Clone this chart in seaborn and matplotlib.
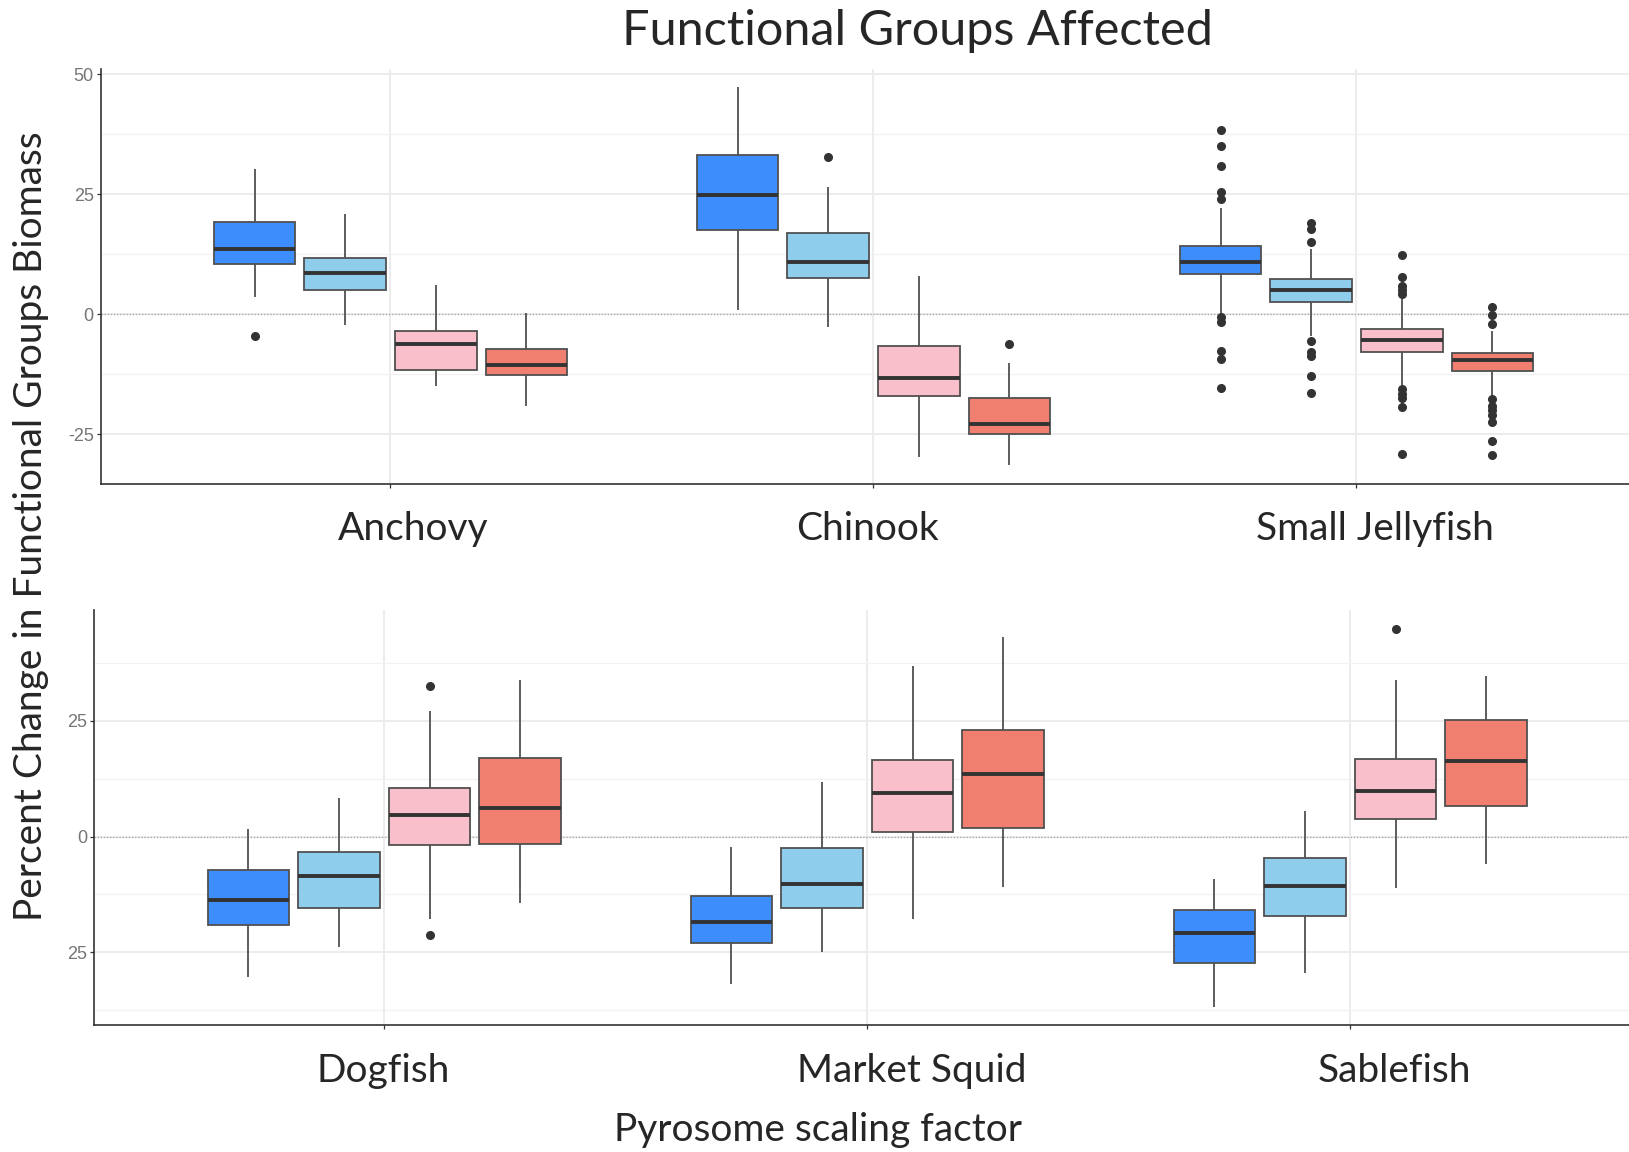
import numpy as np
import pandas as pd
import matplotlib
matplotlib.use("Agg")
import matplotlib.pyplot as plt
import seaborn as sns

# groups and scaling-factor levels (levels have no legend in the original)
top_groups = ["Anchovy", "Chinook", "Small Jellyfish"]
bottom_groups = ["Dogfish", "Market Squid", "Sablefish"]
levels = ["A", "B", "C", "D"]
level_colors = ["#3d8efc", "#8fcdec", "#f9c0cb", "#f17f6f"]

# box statistics: one row per group, one value per level
top_lo = [[3.6, -2.3, -14.9, -19.1], [0.9, -2.6, -29.8, -31.4], [0.2, -4.5, -14.7, -17.0]]
top_q1 = [[10.5, 5.0, -11.5, -12.6], [17.5, 7.5, -17.1, -24.9], [8.4, 2.5, -7.8, -11.7]]
top_med = [[13.6, 8.7, -6.1, -10.6], [24.9, 10.8, -13.3, -22.8], [11.0, 5.0, -5.4, -9.5]]
top_q3 = [[19.2, 11.7, -3.4, -7.3], [33.1, 16.9, -6.5, -17.5], [14.2, 7.3, -3.1, -8.1]]
top_hi = [[30.2, 20.9, 6.1, 0.2], [47.3, 26.6, 8.0, -10.2], [22.2, 13.6, 3.7, -3.4]]
top_out = [
    [[-4.5], [], [], []],
    [[], [32.8], [], [-6.1]],
    [[38.3, 35.1, 30.8, 25.5, 24.0, -0.5, -1.5, -7.6, -9.2, -15.4],
     [19.0, 17.7, 15.1, -5.5, -7.9, -8.6, -12.9, -16.4],
     [12.3, 7.7, 6.0, 5.1, 4.2, -15.5, -16.5, -17.4, -19.3, -29.0],
     [1.5, -0.2, -2.0, -17.7, -19.1, -19.9, -21.0, -22.4, -26.3, -29.2]],
]

bot_lo = [[-30.4, -23.8, -17.8, -14.3], [-31.9, -25.0, -17.8, -10.8], [-36.7, -29.4, -11.1, -6.0]]
bot_q1 = [[-19.2, -15.5, -1.9, -1.5], [-23.0, -15.5, 0.95, 1.9], [-27.3, -17.2, 3.9, 6.7]]
bot_med = [[-13.7, -8.6, 4.6, 6.1], [-18.4, -10.3, 9.5, 13.5], [-20.9, -10.6, 9.8, 16.3]]
bot_q3 = [[-7.3, -3.3, 10.4, 16.9], [-12.8, -2.5, 16.6, 23.0], [-15.8, -4.7, 16.7, 25.1]]
bot_hi = [[1.7, 8.4, 27.1, 33.9], [-2.2, 11.7, 36.9, 43.1], [-9.2, 5.6, 33.9, 34.6]]
bot_out = [
    [[], [], [32.5, -21.2], []],
    [[], [], [], []],
    [[], [], [44.9], []],
]

top_yticks = [50, 25, 0, -25]
top_yticklabels = ["50", "25", "0", "-25"]
bot_yticks = [25, 0, -25]
bot_yticklabels = ["25", "0", "25"]


def box_sample(lo, q1, med, q3, hi, out):
    # sample of 4k+1 values whose quartiles / whiskers / fliers give exactly the read stats
    low = sorted(v for v in out if v < q1)
    high = sorted(v for v in out if v > q3)
    k = max(len(low), len(high)) + 1
    lower = low + [lo] + [q1] * (k - len(low) - 1)
    upper = [q3] * (k - len(high) - 1) + [hi] + high
    return lower + [q1] + [med] * (k - 1) + [med] + [med] * (k - 1) + [q3] + upper


def make_frame(groups, lo, q1, med, q3, hi, out):
    rows = []
    for gi, g in enumerate(groups):
        for li, lvl in enumerate(levels):
            for v in box_sample(lo[gi][li], q1[gi][li], med[gi][li], q3[gi][li], hi[gi][li], out[gi][li]):
                rows.append((g, lvl, v))
    return pd.DataFrame(rows, columns=["group", "factor", "change"])


top_df = make_frame(top_groups, top_lo, top_q1, top_med, top_q3, top_hi, top_out)
bot_df = make_frame(bottom_groups, bot_lo, bot_q1, bot_med, bot_q3, bot_hi, bot_out)

sns.set_theme(style="whitegrid")
plt.rcParams["font.family"] = ["Lato", "DejaVu Sans"]

fig = plt.figure(figsize=(16.29, 11.52), dpi=100)
ax_top = fig.add_axes([0.0618, 0.5796, 0.9488, 0.3605])
ax_bot = fig.add_axes([0.0580, 0.1102, 0.9488, 0.3602])


def draw_panel(ax, df, groups, ylim, yticks, yticklabels, minor):
    sns.boxplot(data=df, x="group", y="change", hue="factor", order=groups, hue_order=levels,
                palette=level_colors, width=0.75, gap=0.1, linecolor="#505050", linewidth=1.3,
                showcaps=False, fliersize=5.5, legend=False, saturation=1,
                medianprops=dict(color="#333333", linewidth=2.8),
                flierprops=dict(marker="o", markerfacecolor="#333333", markeredgecolor="#333333"),
                ax=ax)
    ax.set_xlim(-0.6, 2.6)
    ax.set_ylim(*ylim)
    ax.set_yticks(yticks)
    ax.set_yticklabels(yticklabels)
    ax.set_yticks(minor, minor=True)
    ax.set_xticklabels([])
    ax.set_xlabel("")
    ax.set_ylabel("")
    ax.set_axisbelow(True)
    ax.grid(True, which="major", color="#ebebeb", linewidth=1.3)
    ax.grid(True, which="minor", axis="y", color="#f2f2f2", linewidth=0.9)
    ax.axhline(0, color="#a0a0a0", linewidth=0.9, linestyle=(0, (1, 1.5)), zorder=1)
    for side in ["top", "right"]:
        ax.spines[side].set_visible(False)
    for side in ["left", "bottom"]:
        ax.spines[side].set_color("#333333")
        ax.spines[side].set_linewidth(1.2)
    ax.tick_params(axis="both", which="major", length=3, width=0.9, color="#333333",
                   labelsize=13, labelcolor="#757575", pad=2, left=True, bottom=True)
    ax.tick_params(axis="both", which="minor", length=0)
    for lab in ax.get_yticklabels():
        lab.set_fontfamily(["Liberation Sans", "DejaVu Sans"])


draw_panel(ax_top, top_df, top_groups, (-35.4, 51.1), top_yticks, top_yticklabels, [37.5, 12.5, -12.5])
draw_panel(ax_bot, bot_df, bottom_groups, (-40.7, 48.9), bot_yticks, bot_yticklabels, [37.5, 12.5, -12.5, -37.5])

W, H = 1629.0, 1152.0
fig.text(917 / W, 1 - 45 / H, "Functional Groups Affected", ha="center", va="baseline", fontsize=35)
for name, xc in zip(top_groups, [412.7, 868, 1375]):
    fig.text(xc / W, 1 - 540 / H, name, ha="center", va="baseline", fontsize=28)
for name, xc in zip(bottom_groups, [383, 912, 1394]):
    fig.text(xc / W, 1 - 1082 / H, name, ha="center", va="baseline", fontsize=28)
fig.text(817.5 / W, 1 - 1141 / H, "Pyrosome scaling factor", ha="center", va="baseline", fontsize=28)
fig.text(31 / W, 1 - 526 / H, "Percent Change in Functional Groups Biomass", ha="center", va="center",
         rotation=90, fontsize=28)

fig.savefig("out.png", dpi=100)
